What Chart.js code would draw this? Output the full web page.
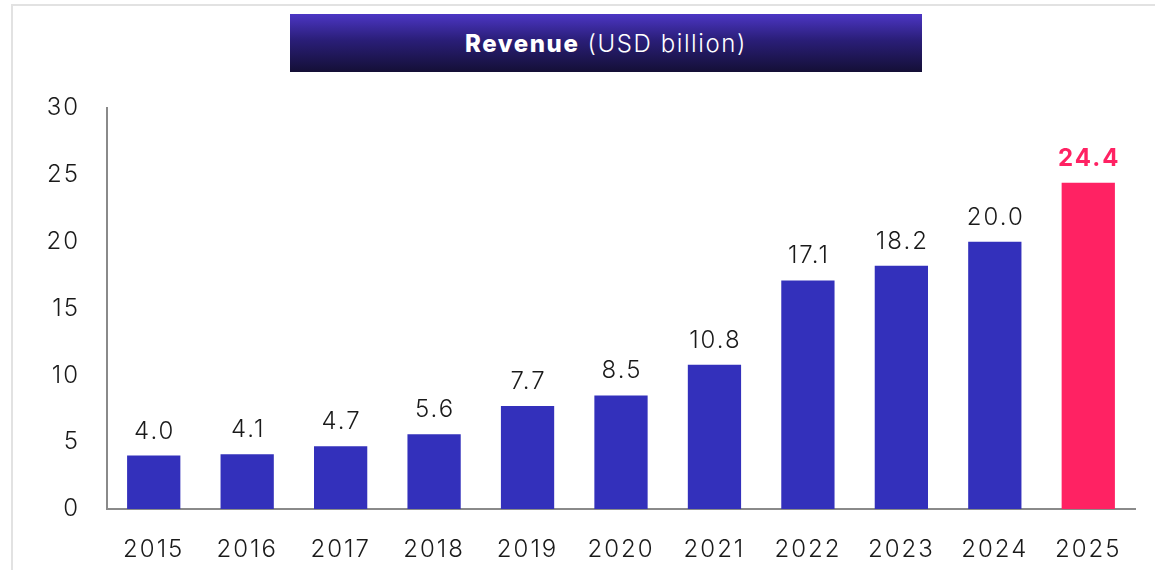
<!DOCTYPE html>
<html>
<head>
<meta charset="utf-8">
<script src="https://cdn.jsdelivr.net/npm/chart.js@4.4.1/dist/chart.umd.min.js"></script>
<style>
  html, body { margin: 0; padding: 0; background: #fff; }
  #wrap { position: relative; width: 1155px; height: 570px; overflow: hidden; }
  #frame { position: absolute; left: 11px; top: 4px; width: 1200px; height: 600px; border-left: 2px solid #e2e2e2; border-top: 2px solid #e2e2e2; }
  #title { position: absolute; left: 290px; top: 14px; width: 632px; height: 58px;
    background: linear-gradient(to bottom, #4c36c4 0%, #2a1e78 45%, #140f36 100%);
    color: #fff; font-family: Inter, "Liberation Sans", sans-serif; font-size: 24px;
    display: flex; align-items: center; justify-content: center; letter-spacing: 1.6px; }
  #title b { font-weight: 800; margin-right: 8px; }
  canvas { position: absolute; left: 0; top: 0; }
</style>
</head>
<body>
<div id="wrap">
  <div id="frame"></div>
  <canvas id="c" width="1155" height="570"></canvas>
  <div id="title"><b>Revenue</b><span style="font-weight:300">(USD billion)</span></div>
</div>
<script>
const categories = ["2015","2016","2017","2018","2019","2020","2021","2022","2023","2024","2025"];
const revenue = [4.0, 4.1, 4.7, 5.6, 7.7, 8.5, 10.8, 17.1, 18.2, 20.0, 24.4];
const yTicks = [0, 5, 10, 15, 20, 25, 30];
const highlightIndex = 10;

const FONT = "Inter, 'Liberation Sans', sans-serif";
const BLUE = "#3330bb";
const PINK = "#ff2263";

const spacing = {
  id: "spacing",
  beforeDraw(chart) { chart.ctx.letterSpacing = "2px"; }
};

const valueLabels = {
  id: "valueLabels",
  afterDatasetsDraw(chart) {
    const ctx = chart.ctx;
    const meta = chart.getDatasetMeta(0);
    ctx.save();
    ctx.letterSpacing = "2px";
    ctx.textAlign = "center";
    ctx.textBaseline = "alphabetic";
    meta.data.forEach((bar, i) => {
      const hl = i === highlightIndex;
      ctx.fillStyle = hl ? PINK : "#1a1a1a";
      ctx.font = (hl ? "700 " : "300 ") + "24px " + FONT;
      ctx.fillText(revenue[i].toFixed(1), bar.x + 1, bar.y - 17);
    });
    ctx.restore();
  }
};

new Chart(document.getElementById("c"), {
  type: "bar",
  data: {
    labels: categories,
    datasets: [{
      data: revenue,
      backgroundColor: revenue.map((v, i) => i === highlightIndex ? PINK : BLUE),
      barPercentage: 0.57,
      categoryPercentage: 1.0,
      borderWidth: 0
    }]
  },
  options: {
    responsive: false,
    animation: false,
    layout: { padding: { left: 0, right: 20, top: 108, bottom: 0 } },
    plugins: { legend: { display: false }, tooltip: { enabled: false }, title: { display: false } },
    scales: {
      x: {
        grid: { display: false, drawTicks: false },
        border: { display: true, color: "#8a8a8a", width: 2 },
        ticks: { color: "#1a1a1a", font: { family: FONT, size: 24, weight: 300 }, padding: 26, maxRotation: 0 },
        afterFit(s) { s.height = 61; }
      },
      y: {
        min: 0, max: 30,
        afterBuildTicks(s) { s.ticks = yTicks.map(v => ({ value: v })); },
        grid: { display: false, drawTicks: false },
        border: { display: true, color: "#8a8a8a", width: 2 },
        ticks: { color: "#1a1a1a", font: { family: FONT, size: 24, weight: 300 }, padding: 27 },
        afterFit(s) { s.width = 107; }
      }
    }
  },
  plugins: [spacing, valueLabels]
});
</script>
</body>
</html>
